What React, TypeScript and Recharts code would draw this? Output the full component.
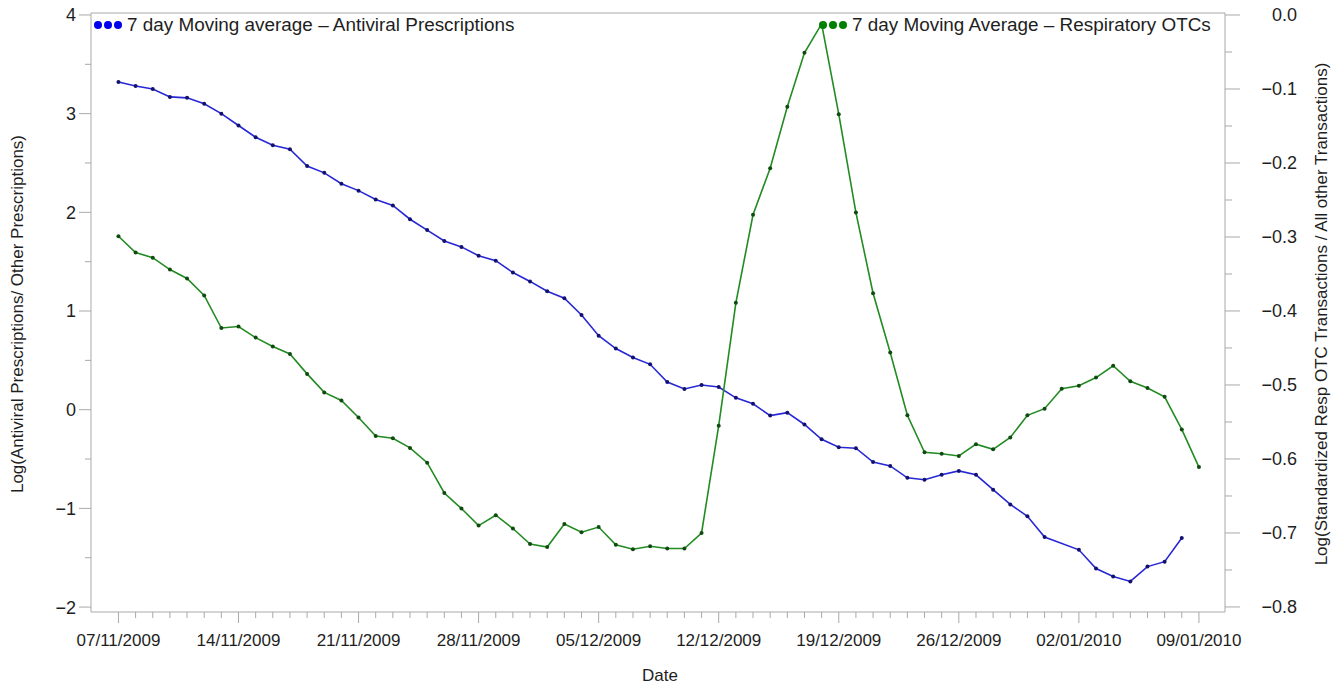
import React from 'react';
import { LineChart, Line, XAxis, YAxis, ReferenceLine } from 'recharts';

// day index 0 = 07/11/2009, one value per day up to 09/01/2010
const weekLabels = ['07/11/2009', '14/11/2009', '21/11/2009', '28/11/2009', '05/12/2009', '12/12/2009', '19/12/2009', '26/12/2009', '02/01/2010', '09/01/2010'];

const antiviral = [
  3.32, 3.28, 3.25, 3.17, 3.16, 3.1, 3.0, 2.88, 2.76, 2.68, 2.64, 2.47, 2.4, 2.29, 2.22, 2.13,
  2.07, 1.93, 1.82, 1.71, 1.65, 1.56, 1.51, 1.39, 1.3, 1.2, 1.13, 0.96, 0.75, 0.62, 0.53, 0.46,
  0.28, 0.21, 0.25, 0.23, 0.12, 0.06, -0.06, -0.03, -0.15, -0.3, -0.38, -0.39, -0.53, -0.57, -0.69, -0.71,
  -0.66, -0.62, -0.66, -0.81, -0.96, -1.08, -1.29, null, -1.42, -1.61, -1.69, -1.74, -1.59, -1.54, -1.3, null,
];

const respiratory = [
  -0.299, -0.321, -0.328, -0.344, -0.356, -0.379, -0.423, -0.421, -0.436, -0.448, -0.458, -0.485, -0.51, -0.521, -0.544, -0.569,
  -0.572, -0.585, -0.605, -0.646, -0.667, -0.69, -0.676, -0.694, -0.715, -0.719, -0.688, -0.699, -0.692, -0.716, -0.722, -0.718,
  -0.721, -0.721, -0.7, -0.555, -0.389, -0.27, -0.207, -0.124, -0.051, -0.012, -0.134, -0.267, -0.376, -0.456, -0.541, -0.591,
  -0.593, -0.596, -0.58, -0.587, -0.571, -0.541, -0.532, -0.505, -0.501, -0.49, -0.474, -0.495, -0.504, -0.516, -0.56, -0.611,
];

const leftTicks = [-2, -1.5, -1, -0.5, 0, 0.5, 1, 1.5, 2, 2.5, 3, 3.5, 4];
const rightTicks = [0, -0.05, -0.1, -0.15, -0.2, -0.25, -0.3, -0.35, -0.4, -0.45, -0.5, -0.55, -0.6, -0.65, -0.7, -0.75, -0.8];

const data = respiratory.map((r, i) => ({ day: i, antiviral: antiviral[i], respiratory: r }));
const dayTicks = data.map(d => d.day);

const LEFT_DOMAIN: [number, number] = [-2.05, 4.02];
const RIGHT_DOMAIN: [number, number] = [-0.8068, 0.0027];
const X_DOMAIN: [number, number] = [-1.6, 64.52];

const FRAME = '#a9a9a9';
const INK = '#1e1e1e';
const BLUE = '#2727d6';
const GREEN = '#228b22';
const FONT = '"Liberation Sans", Arial, sans-serif';

const fmtMinus = (s: string) => s.replace('-', '\u2212');

const XTick = (props: any) => {
  const { x, y, payload } = props;
  const day = payload.value;
  const major = day % 7 === 0;
  return (
    <g>
      <line x1={x} x2={x} y1={y} y2={y + (major ? 11 : 6)} stroke={FRAME} />
      {major && (
        <text x={x} y={y + 34} textAnchor="middle" fontSize={17} fill={INK} fontFamily={FONT}>
          {weekLabels[day / 7]}
        </text>
      )}
    </g>
  );
};

const LeftTick = (props: any) => {
  const { x, y, payload } = props;
  const v = payload.value;
  const major = Number.isInteger(v);
  return (
    <g>
      <line x1={x - (major ? 12 : 6)} x2={x} y1={y} y2={y} stroke={FRAME} />
      {major && (
        <text x={x - 15} y={y} dy="0.36em" textAnchor="end" fontSize={18} fill={INK} fontFamily={FONT}>
          {fmtMinus(String(v))}
        </text>
      )}
    </g>
  );
};

const RightTick = (props: any) => {
  const { x, y, payload } = props;
  const v = payload.value;
  const major = Math.abs(v * 10 - Math.round(v * 10)) < 1e-6;
  return (
    <g>
      <line x1={x} x2={x + (major ? 15 : 7)} y1={y} y2={y} stroke={FRAME} />
      {major && (
        <text x={1297} y={y} dy="0.36em" textAnchor="end" fontSize={18} fill={INK} fontFamily={FONT}>
          {fmtMinus(v.toFixed(1))}
        </text>
      )}
    </g>
  );
};

const LegendDots = ({ color }: { color: string }) => (
  <svg width={30} height={10} style={{ display: 'block' }}>
    <circle cx={5} cy={5} r={4} fill={color} />
    <circle cx={15} cy={5} r={4} fill={color} />
    <circle cx={25} cy={5} r={4} fill={color} />
  </svg>
);

const App: React.FC = () => {
  return (
    <div style={{ position: 'absolute', left: 0, top: 0, width: 1338, height: 685, background: '#fff', fontFamily: FONT, color: INK }}>
      <LineChart width={1338} height={685} data={data} margin={{ top: 13, right: 0, bottom: 0, left: 0 }}>
        <XAxis
          dataKey="day"
          type="number"
          domain={X_DOMAIN}
          ticks={dayTicks}
          interval={0}
          tick={<XTick />}
          tickLine={false}
          tickSize={0}
          tickMargin={0}
          height={73}
          axisLine={{ stroke: FRAME }}
        />
        <YAxis
          yAxisId="left"
          domain={LEFT_DOMAIN}
          ticks={leftTicks}
          interval={0}
          tick={<LeftTick />}
          tickLine={false}
          tickSize={0}
          tickMargin={0}
          width={91}
          axisLine={{ stroke: FRAME }}
        />
        <YAxis
          yAxisId="right"
          orientation="right"
          domain={RIGHT_DOMAIN}
          ticks={rightTicks}
          interval={0}
          tick={<RightTick />}
          tickLine={false}
          tickSize={0}
          tickMargin={0}
          width={113}
          axisLine={{ stroke: FRAME }}
        />
        <ReferenceLine yAxisId="left" y={LEFT_DOMAIN[1]} stroke={FRAME} />
        <Line
          yAxisId="left"
          dataKey="antiviral"
          stroke={BLUE}
          strokeWidth={1.6}
          connectNulls
          dot={{ r: 2, fill: '#12126e', strokeWidth: 0 }}
          activeDot={false}
          isAnimationActive={false}
        />
        <Line
          yAxisId="right"
          dataKey="respiratory"
          stroke={GREEN}
          strokeWidth={1.6}
          dot={{ r: 2, fill: '#0f4a0f', strokeWidth: 0 }}
          activeDot={false}
          isAnimationActive={false}
        />
      </LineChart>

      <div style={{ position: 'absolute', left: 93, top: 14, display: 'flex', alignItems: 'center', gap: 4, whiteSpace: 'nowrap', fontSize: 18.9 }}>
        <LegendDots color="#0000ee" />
        <span>7 day Moving average {'\u2013'} Antiviral Prescriptions</span>
      </div>
      <div style={{ position: 'absolute', left: 818, top: 14, display: 'flex', alignItems: 'center', gap: 4, whiteSpace: 'nowrap', fontSize: 18.9 }}>
        <LegendDots color="#008000" />
        <span>7 day Moving Average {'\u2013'} Respiratory OTCs</span>
      </div>

      <div style={{ position: 'absolute', left: 18, top: 314, transform: 'translate(-50%, -50%) rotate(-90deg)', whiteSpace: 'nowrap', fontSize: 17 }}>
        Log(Antiviral Prescriptions/ Other Prescriptions)
      </div>
      <div style={{ position: 'absolute', left: 1322, top: 314, transform: 'translate(-50%, -50%) rotate(-90deg)', whiteSpace: 'nowrap', fontSize: 17 }}>
        Log(Standardized Resp OTC Transactions / All other Transactions)
      </div>
      <div style={{ position: 'absolute', left: 660, top: 676, transform: 'translate(-50%, -50%)', whiteSpace: 'nowrap', fontSize: 17 }}>
        Date
      </div>
    </div>
  );
};

export default App;
